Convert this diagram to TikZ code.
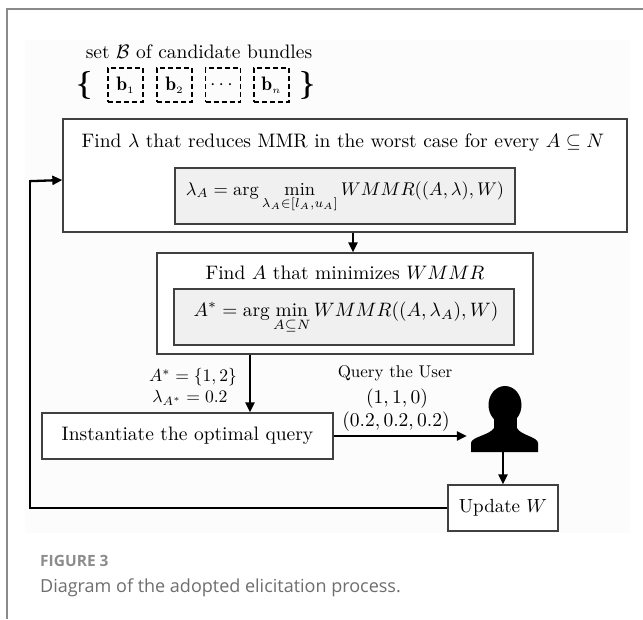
\documentclass[tikz,border=0pt]{standalone}
\usepackage{amsmath,amssymb}
\usepackage{fontspec}
\newfontfamily\capfont{Open Sans}
\usetikzlibrary{arrows.meta,calc}
\definecolor{framec}{HTML}{8A8A8A}
\definecolor{boxc}{HTML}{404040}
\definecolor{innerc}{HTML}{F0F0F0}
\definecolor{areac}{HTML}{FCFCFC}
\definecolor{capg}{HTML}{8C8C8C}
\definecolor{capt}{HTML}{6E6E6E}
\tikzset{
  boxo/.style={draw=boxc, line width=1.3pt, inner sep=0pt, fill=white},
  boxi/.style={draw=boxc, line width=1.3pt, fill=innerc, inner sep=0pt},
  conn/.style={line width=2.3pt, -{Triangle[length=10pt,width=9pt]}},
  bund/.style={draw=black, line width=1.4pt, dash pattern=on 5pt off 3pt, minimum width=35pt, minimum height=34pt, inner sep=0pt},
  main/.style={inner sep=0pt, scale=1.95},
  mth/.style={inner sep=0pt, scale=1.9},
  lab/.style={inner sep=0pt, scale=1.76},
}
\begin{document}
\begin{tikzpicture}[x=1pt,y=-1pt]
\useasboundingbox (0,0) rectangle (643,619);
\fill[white] (0,0) rectangle (643,619);
% frame
\draw[framec, line width=1.6pt] (7,619) -- (7,9) -- (643,9);
\fill[areac] (25,40) rectangle (630,533);

% bundles
\node[main] (settitle) at (199,52) {set $\mathcal{B}$ of candidate bundles};
\node[main] (lbr) at (85,85) {\Large$\boldsymbol{\{}$};
\node[bund] (bb1) at (125.5,85) {};
\node[bund] (bb2) at (174.5,85) {};
\node[bund] (bb3) at (223,85) {};
\node[bund] (bb4) at (271.5,85) {};
\node[main] (bt1) at (bb1) {$\mathbf{b}_{\scriptscriptstyle 1}$};
\node[main] (bt2) at (bb2) {$\mathbf{b}_{\scriptscriptstyle 2}$};
\node[main] (bt3) at (bb3) {$\cdots$};
\node[main] (bt4) at (bb4) {$\mathbf{b}_{\scriptscriptstyle n}$};
\node[main] (rbr) at (308,85) {\Large$\boldsymbol{\}}$};

% box 1
\node[boxo, minimum width=564pt, minimum height=113pt] (b1) at (345,175.5) {};
\node[main] (t1) at (343,143) {Find $\lambda$ that reduces MMR in the worst case for every $A\subseteq N$};
\node[boxi, minimum width=340pt, minimum height=56pt] (m1) at (345,196) {};
\node[inner sep=0pt, scale=1.84] (m1t) at (345,197)
  {$\displaystyle \lambda_A = \arg\min_{\lambda_A\in[l_A,u_A]} WMMR((A,\lambda),W)$};

% box 2
\node[boxo, minimum width=376pt, minimum height=101pt] (b2) at (345,303.5) {};
\node[main] (t2) at (345,273) {Find $A$ that minimizes $WMMR$};
\node[boxi, minimum width=340pt, minimum height=56pt] (m2) at (344,317) {};
\node[mth, scale=1.02] (m2t) at (346,318)
  {$\displaystyle A^* = \arg\min_{A\subseteq N} WMMR((A,\lambda_A),W)$};

% box 3
\node[boxo, minimum width=291pt, minimum height=46pt] (b3) at (187.5,436) {};
\node[main] (b3t) at (b3) {Instantiate the optimal query};

% update
\node[boxo, minimum width=110pt, minimum height=46pt] (upd) at (503,508) {};
\node[mth] (updt) at (upd) {Update $W$};

% user silhouette
\node[minimum width=67pt, minimum height=66pt, inner sep=0pt] (user) at (504.5,419) {};
\fill[black] (505,405) ellipse [x radius=16.5pt, y radius=19pt];
\fill[black] (471,452) -- (471,443) .. controls (471,437) and (490,435) .. (494,428)
  -- (517,428) .. controls (520,435) and (538,437) .. (538,443) -- (538,452) -- cycle;
\fill[black] (494,415) rectangle (517,430);

% labels
\node[lab] (la1) at (193,377) {$A^* = \{1,2\}$};
\node[lab] (la2) at (190,398) {$\lambda_{A^*} = 0.2$};
\node[inner sep=0pt, scale=1.7] (q1) at (395,373) {Query the User};
\node[main] (q2) at (397,399) {$(1,1,0)$};
\node[main] (q3) at (396,422) {$(0.2,0.2,0.2)$};

% connectors
\coordinate (x1) at (353,0);
\coordinate (x2) at (250,0);
\coordinate (r1) at (30,180);
\coordinate (r2) at (30,508);
\draw[conn] (b1.south -| x1) -- (b2.north -| x1);
\draw[conn] (b2.south -| x2) -- (b3.north -| x2);
\draw[conn] (b3.east) -- ($(user.west |- b3.east)+(-4,0)$);
\draw[conn] (upd.north |- user.south) -- (upd.north);
\draw[line width=2.3pt] (upd.west) -- (r2) -- (r1);
\draw[conn] ($(r1)+(0,1.15)$) -- (r1 -| b1.west);

% caption
\node[anchor=west, inner sep=0pt, text=capg, font=\capfont\bfseries\fontsize{15.5}{18}\selectfont] (fig) at (40,561) {FIGURE 3};
\node[anchor=west, inner sep=0pt, text=capt, font=\capfont\fontsize{18}{21}\selectfont] (cap) at (40,588) {Diagram of the adopted elicitation process.};
\end{tikzpicture}
\end{document}
